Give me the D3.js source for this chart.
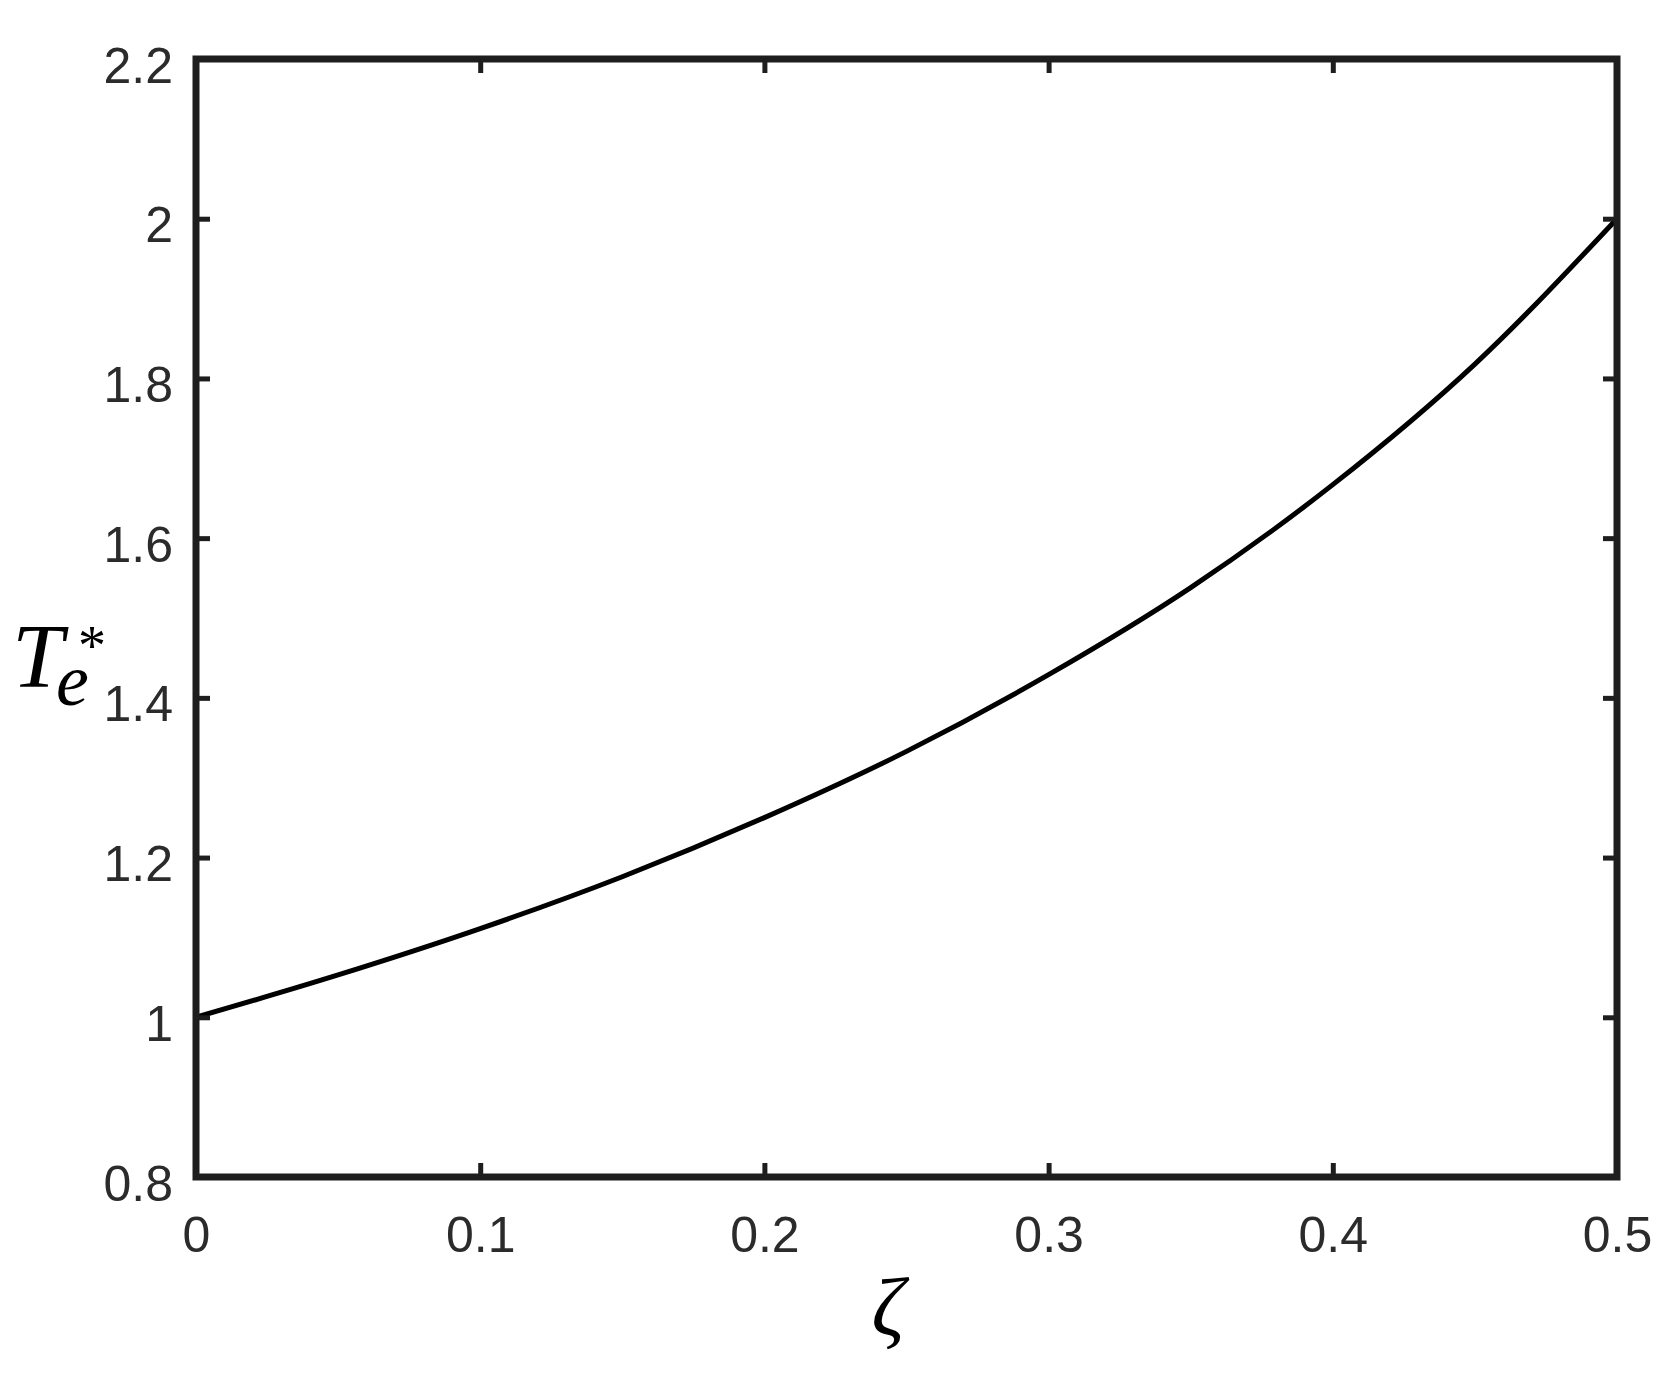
<!DOCTYPE html>
<html><head><meta charset="utf-8">
<script src="https://cdn.jsdelivr.net/npm/d3@7"></script>
<style>html,body{margin:0;padding:0;background:#fff;}</style>
</head><body>
<svg id="chart" width="1672" height="1375"></svg>
<script>
const zeta = [0, 0.05, 0.1, 0.15, 0.2, 0.25, 0.3, 0.35, 0.4, 0.45, 0.5];
const Te = [1.00, 1.053, 1.111, 1.176, 1.25, 1.333, 1.429, 1.538, 1.667, 1.818, 2.00];
const xTicks = [0, 0.1, 0.2, 0.3, 0.4, 0.5];
const yTicks = [0.8, 1, 1.2, 1.4, 1.6, 1.8, 2, 2.2];
const xTickLabels = ["0", "0.1", "0.2", "0.3", "0.4", "0.5"];
const yTickLabels = ["0.8", "1", "1.2", "1.4", "1.6", "1.8", "2", "2.2"];

const svg = d3.select("#chart");
const L = 196, R = 1617, T = 59, B = 1177;
const x = d3.scaleLinear().domain([0, 0.5]).range([L, R]);
const y = d3.scaleLinear().domain([0.8, 2.2]).range([B, T]);
const axisColor = "#1e1e1e";
const textColor = "#2b2b2b";
const tickLen = 14;

// curve
const pts = zeta.map((z, i) => [z, Te[i]]);
svg.append("path")
  .datum(pts)
  .attr("fill", "none")
  .attr("stroke", "#000")
  .attr("stroke-width", 5)
  .attr("d", d3.line().x(d => x(d[0])).y(d => y(d[1])).curve(d3.curveMonotoneX));

// axes with inward ticks
const fontFam = "'Liberation Sans', Arial, sans-serif";
const gB = svg.append("g").attr("transform", `translate(0,${B})`)
  .call(d3.axisBottom(x).tickValues(xTicks).tickSize(-tickLen).tickPadding(0)
    .tickFormat((d, i) => xTickLabels[i]));
const gT = svg.append("g").attr("transform", `translate(0,${T})`)
  .call(d3.axisTop(x).tickValues(xTicks).tickSize(-tickLen).tickFormat(""));
const gL = svg.append("g").attr("transform", `translate(${L},0)`)
  .call(d3.axisLeft(y).tickValues(yTicks).tickSize(-tickLen).tickPadding(0)
    .tickFormat((d, i) => yTickLabels[i]));
const gR = svg.append("g").attr("transform", `translate(${R},0)`)
  .call(d3.axisRight(y).tickValues(yTicks).tickSize(-tickLen).tickFormat(""));

[gB, gT, gL, gR].forEach(g => {
  g.select(".domain").remove();
  g.selectAll(".tick line").attr("stroke", axisColor).attr("stroke-width", 5);
});

gB.selectAll(".tick text")
  .attr("font-family", fontFam).attr("font-size", 50).attr("fill", textColor)
  .attr("y", 75).attr("dy", 0);
gL.selectAll(".tick text")
  .attr("font-family", fontFam).attr("font-size", 50).attr("fill", textColor)
  .attr("x", -23).attr("dy", 0).attr("y", 23);

// frame
svg.append("rect")
  .attr("x", L).attr("y", T).attr("width", R - L).attr("height", B - T)
  .attr("fill", "none").attr("stroke", axisColor).attr("stroke-width", 7);

// y label T_e^* as one text with tspans
const serif = "'Liberation Serif', 'Times New Roman', serif";
const yl = svg.append("text").attr("x", 12).attr("y", 687)
  .attr("font-family", serif).attr("fill", "#000");
yl.append("tspan").attr("font-style", "italic").attr("font-size", 92).text("T");
yl.append("tspan").attr("x", 56).attr("y", 705)
  .attr("font-style", "italic").attr("font-size", 74).text("e");
yl.append("tspan").attr("x", 78).attr("y", 665)
  .attr("font-size", 56).text("*");

// x label zeta
svg.append("text").attr("x", 888).attr("y", 1335)
  .attr("text-anchor", "middle")
  .attr("font-family", serif).attr("font-style", "italic").attr("font-size", 82)
  .attr("fill", "#000").text("ζ");
</script>
</body></html>
